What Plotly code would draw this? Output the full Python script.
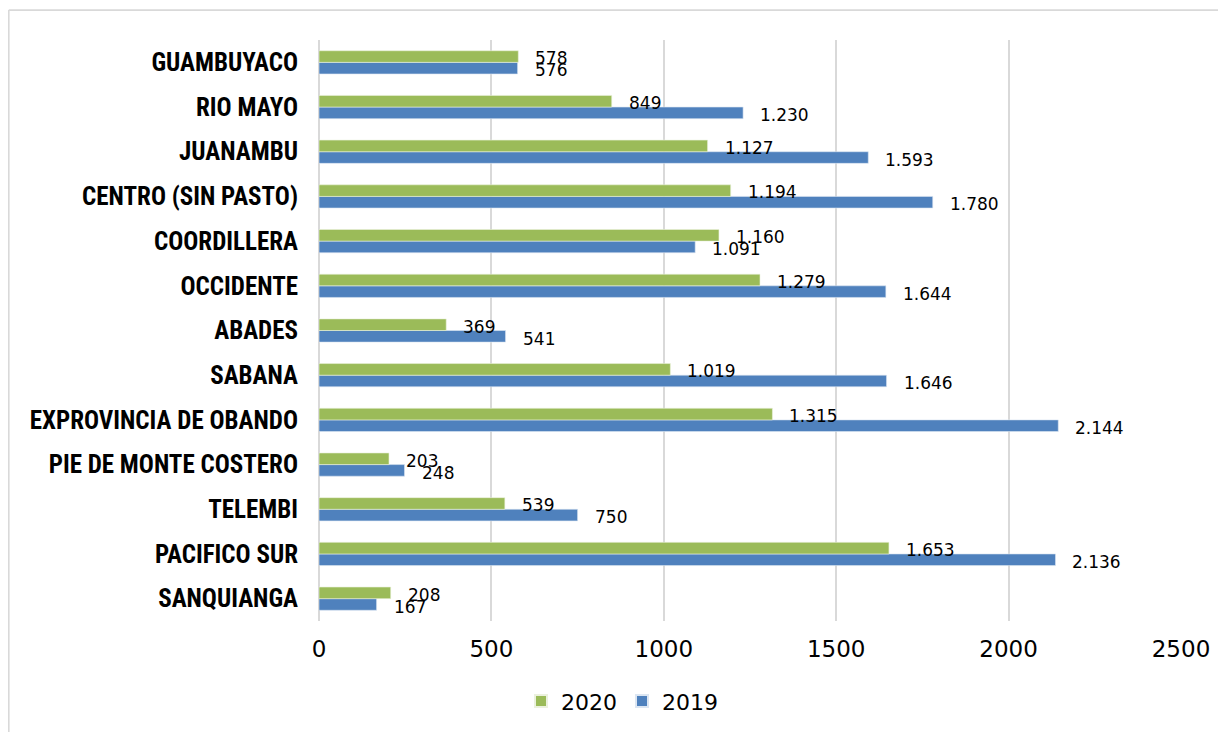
import plotly.graph_objects as go

categories = ["GUAMBUYACO", "RIO MAYO", "JUANAMBU", "CENTRO (SIN PASTO)", "COORDILLERA",
              "OCCIDENTE", "ABADES", "SABANA", "EXPROVINCIA DE OBANDO",
              "PIE DE MONTE COSTERO", "TELEMBI", "PACIFICO SUR", "SANQUIANGA"]
values_2020 = [578, 849, 1127, 1194, 1160, 1279, 369, 1019, 1315, 203, 539, 1653, 208]
values_2019 = [576, 1230, 1593, 1780, 1091, 1644, 541, 1646, 2144, 248, 750, 2136, 167]
x_ticks = [0, 500, 1000, 1500, 2000, 2500]

GREEN = "#9BBB59"
BLUE = "#4F81BD"

# page has an 8px body margin: figure is laid out in its own coordinates
OFF = 8
W, H = 1226 - OFF, 734 - OFF
ML = 319 - OFF
MT = 40 - OFF
PW = 1181 - 319
PH = 622.6 - 40
MR = W - ML - PW
MB = H - MT - PH


def fmt(v):
    return f"{v:,}".replace(",", ".")


fig = go.Figure()
fig.add_trace(go.Bar(name="2019", y=categories, x=values_2019, orientation="h",
                     marker=dict(color=BLUE, line=dict(color="#DCE6F2", width=0.6)),
                     hoverinfo="x+y"))
fig.add_trace(go.Bar(name="2020", y=categories, x=values_2020, orientation="h",
                     marker=dict(color=GREEN, line=dict(color="#EBF1DE", width=0.6)),
                     hoverinfo="x+y"))

label_font = dict(family="DejaVu Sans, Liberation Sans, Arial", size=17, color="#000000")
annotations = []
for cat, v20, v19 in zip(categories, values_2020, values_2019):
    annotations.append(dict(x=v20, y=cat, xref="x", yref="y", text=fmt(v20), showarrow=False,
                            xanchor="left", yanchor="middle", xshift=15, yshift=4,
                            font=label_font))
    annotations.append(dict(x=v19, y=cat, xref="x", yref="y", text=fmt(v19), showarrow=False,
                            xanchor="left", yanchor="middle", xshift=15, yshift=-8,
                            font=label_font))

# chart frame (top and left edges)
top_y = (H - MB - 2) / PH
shapes = [
    dict(type="line", xref="paper", yref="paper",
         x0=(0.8 - ML) / PW, x1=(W - ML) / PW,
         y0=top_y, y1=top_y,
         line=dict(color="#D9D9D9", width=1.6)),
    dict(type="line", xref="paper", yref="paper",
         x0=(0.8 - ML) / PW, x1=(0.8 - ML) / PW,
         y0=top_y, y1=-(MB) / PH,
         line=dict(color="#D9D9D9", width=1.6)),
]

fig.update_layout(
    width=W, height=H,
    margin=dict(l=ML, r=MR, t=MT, b=MB, pad=0),
    barmode="group", bargap=0.48, bargroupgap=0,
    paper_bgcolor="white", plot_bgcolor="white",
    showlegend=True,
    legend=dict(orientation="h", traceorder="reversed",
                x=(622 - 319) / PW, xanchor="center",
                y=-(703 - 622.6) / PH, yanchor="middle",
                font=dict(family="DejaVu Sans, Liberation Sans, Arial", size=22, color="#000000"),
                itemwidth=30, itemsizing="constant"),
    xaxis=dict(range=[0, 2500], tickvals=x_ticks, ticktext=[str(t) for t in x_ticks],
               showgrid=True, gridcolor="#D9D9D9", gridwidth=1.5,
               zeroline=True, zerolinecolor="#D9D9D9", zerolinewidth=1.5,
               showline=False, ticks="", ticklabelstandoff=12,
               tickfont=dict(family="DejaVu Sans, Liberation Sans, Arial", size=23, color="#000000")),
    yaxis=dict(categoryorder="array", categoryarray=categories[::-1],
               showgrid=False, zeroline=False, showline=False, ticks="",
               ticklabelstandoff=20,
               tickfont=dict(family="Liberation Sans Narrow, Roboto Condensed, DejaVu Sans Condensed, Arial Narrow",
                             size=25, color="#000000", weight="bold")),
    annotations=annotations,
    shapes=shapes,
)

fig.write_html("out.html")
